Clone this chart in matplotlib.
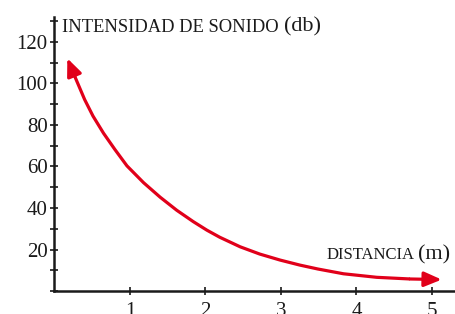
import matplotlib
matplotlib.use("Agg")
import matplotlib.pyplot as plt
from matplotlib.ticker import MultipleLocator

# data
distancia = [0.17, 0.27, 0.40, 0.51, 0.65, 0.80, 0.96, 1.18, 1.40, 1.62, 1.84, 2.02,
             2.19, 2.46, 2.72, 2.99, 3.25, 3.49, 3.83, 4.27, 4.71, 5.13]
intensidad = [112.1, 103.3, 92.2, 84.3, 76.0, 68.2, 60.3, 52.2, 45.2, 38.9, 33.4, 29.3,
              25.9, 21.3, 17.8, 14.9, 12.5, 10.6, 8.3, 6.6, 5.8, 5.5]

x_ticks = [1, 2, 3, 4, 5]
y_ticks = [20, 40, 60, 80, 100, 120]

RED = "#e1001a"
INK = "#1a1a1a"
SERIF = "Liberation Serif"

fig = plt.figure(figsize=(4.56, 3.14), dpi=100)
ax = fig.add_axes([0.1195, 0.0732, 0.8805, 0.8726])
ax.set_xlim(0, 5.32)
ax.set_ylim(0, 132)

# spines: only left and bottom
for s in ["top", "right"]:
  ax.spines[s].set_visible(False)
for s in ["left", "bottom"]:
  ax.spines[s].set_linewidth(1.8)
  ax.spines[s].set_color(INK)

ax.set_xticks(x_ticks)
ax.set_yticks(y_ticks)
ax.yaxis.set_minor_locator(MultipleLocator(10))
ax.tick_params(which="both", direction="inout", length=6, width=1.2, color=INK)
ax.tick_params(axis="y", pad=2)
ax.tick_params(axis="x", pad=5)
for lab in ax.get_xticklabels() + ax.get_yticklabels():
  lab.set_fontfamily(SERIF)
  lab.set_fontsize(15)
  lab.set_color(INK)

# curve body
ax.plot(distancia[1:-1], intensidad[1:-1], color=RED, lw=2.3, solid_capstyle="butt",
        solid_joinstyle="round", clip_on=False)

# arrowheads at both ends
arrow = dict(arrowstyle="-|>,head_length=0.75,head_width=0.32", color=RED, lw=2.3,
             shrinkA=0, shrinkB=0, mutation_scale=14)
ax.annotate("", xy=(distancia[0], intensidad[0]), xytext=(distancia[1], intensidad[1]),
            arrowprops=arrow, annotation_clip=False)
ax.annotate("", xy=(distancia[-1], intensidad[-1]), xytext=(distancia[-2], intensidad[-2]),
            arrowprops=arrow, annotation_clip=False)

# axis titles: capitals a bit smaller than the unit in parentheses
renderer = fig.canvas.get_renderer()

def axis_title(x, y, caps, unit, caps_size, gap):
  t = ax.text(x, y, caps, fontfamily=SERIF, fontsize=caps_size, color=INK, va="baseline")
  ext = t.get_window_extent(renderer)
  x_unit = ax.transData.inverted().transform((ext.x1 + gap, 0))[0]
  ax.text(x_unit, y, unit, fontfamily=SERIF, fontsize=16, color=INK, va="baseline")

axis_title(0.10, 124.8, "INTENSIDAD DE SONIDO", "(db)", 13.3, 5)
axis_title(3.60, 15.4, "DISTANCIA", "(m)", 12, 4)

fig.savefig("out.png", dpi=100)
